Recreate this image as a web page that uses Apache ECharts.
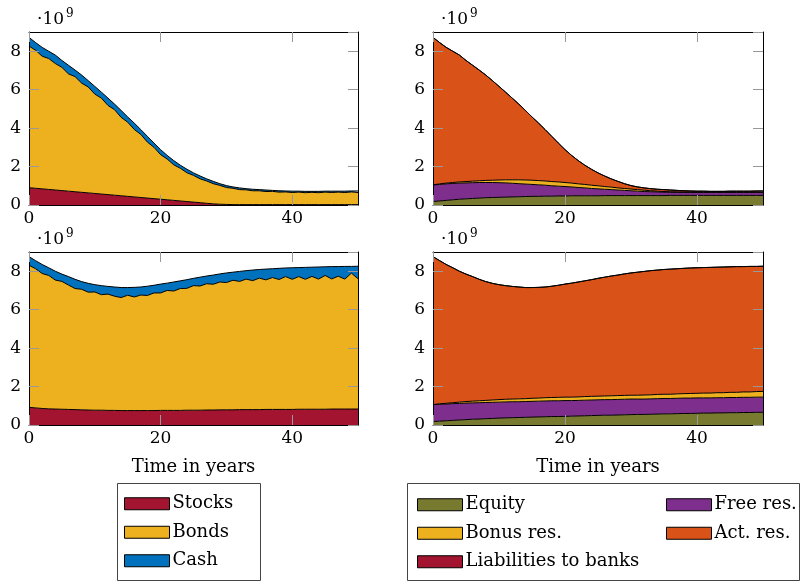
<!DOCTYPE html>
<html>
<head>
<meta charset="utf-8">
<script src="https://cdn.jsdelivr.net/npm/echarts@6/dist/echarts.min.js"></script>
<style>
  html, body { margin: 0; padding: 0; background: #fff; }
  #chart { width: 803px; height: 581px; }
</style>
</head>
<body>
<div id="chart"></div>
<script>
// all values in units of 10^9, one value per year (0..50)
const years = [0,1,2,3,4,5,6,7,8,9,10,11,12,13,14,15,16,17,18,19,20,21,22,23,24,25,
  26,27,28,29,30,31,32,33,34,35,36,37,38,39,40,41,42,43,44,45,46,47,48,49,50];

// top left: assets, scenario 1
const tlStocks = [0.90,0.87,0.84,0.81,0.78,0.75,0.72,0.69,0.66,0.63,
  0.60,0.57,0.54,0.51,0.48,0.45,0.42,0.39,0.36,0.33,
  0.30,0.27,0.24,0.21,0.18,0.15,0.12,0.09,0.06,0.04,
  0.03,0.02,0.02,0.02,0.02,0.02,0.02,0.02,0.02,0.02,
  0.02,0.02,0.02,0.02,0.02,0.02,0.02,0.02,0.02,0.02,
  0.02];
const tlBonds = [7.37,7.18,6.90,6.81,6.58,6.41,6.10,5.99,5.68,5.51,
  5.17,4.99,4.64,4.45,4.08,3.86,3.51,3.28,2.91,2.67,
  2.32,2.12,1.85,1.70,1.50,1.39,1.24,1.16,1.05,0.98,
  0.88,0.85,0.78,0.77,0.72,0.72,0.68,0.69,0.65,0.66,
  0.63,0.65,0.62,0.64,0.62,0.65,0.63,0.65,0.63,0.66,
  0.63];
const tlCash = [0.45,0.40,0.46,0.38,0.44,0.36,0.45,0.34,0.42,0.33,
  0.40,0.31,0.38,0.29,0.36,0.27,0.33,0.25,0.30,0.22,
  0.26,0.19,0.22,0.16,0.18,0.13,0.15,0.11,0.12,0.09,
  0.10,0.07,0.09,0.06,0.08,0.06,0.08,0.05,0.07,0.05,
  0.07,0.05,0.07,0.05,0.07,0.05,0.07,0.05,0.07,0.05,
  0.08];

// bottom left: assets, scenario 2
const blStocks = [0.92,0.89,0.86,0.84,0.83,0.82,0.81,0.80,0.79,0.78,
  0.77,0.77,0.76,0.76,0.75,0.75,0.75,0.75,0.75,0.75,
  0.76,0.76,0.76,0.76,0.77,0.77,0.77,0.78,0.78,0.79,
  0.79,0.79,0.80,0.80,0.80,0.80,0.81,0.81,0.81,0.81,
  0.81,0.82,0.82,0.82,0.82,0.82,0.83,0.83,0.83,0.83,
  0.83];
const blBonds = [7.39,7.24,7.02,6.94,6.71,6.65,6.47,6.30,6.27,6.13,
  6.15,6.01,6.05,5.94,5.88,6.00,5.91,6.01,5.99,6.12,
  6.11,6.24,6.21,6.34,6.34,6.48,6.46,6.57,6.54,6.65,
  6.62,6.74,6.67,6.79,6.71,6.84,6.74,6.86,6.76,6.91,
  6.77,6.90,6.76,6.91,6.77,6.96,6.77,6.91,6.76,7.07,
  6.78];
const blCash = [0.45,0.42,0.47,0.40,0.46,0.38,0.44,0.48,0.40,0.46,
  0.38,0.47,0.40,0.48,0.52,0.40,0.50,0.42,0.48,0.40,
  0.46,0.38,0.47,0.40,0.45,0.38,0.46,0.40,0.48,0.42,
  0.50,0.42,0.52,0.44,0.55,0.45,0.56,0.46,0.58,0.45,
  0.60,0.47,0.62,0.48,0.63,0.45,0.64,0.50,0.66,0.35,
  0.65];

// top right: liabilities, scenario 1
const trEquity = [0.18,0.21,0.24,0.27,0.30,0.32,0.34,0.36,0.38,0.39,
  0.40,0.41,0.42,0.43,0.44,0.45,0.45,0.46,0.46,0.47,
  0.47,0.48,0.48,0.48,0.48,0.48,0.49,0.49,0.49,0.49,
  0.49,0.49,0.49,0.49,0.49,0.49,0.50,0.50,0.50,0.50,
  0.50,0.50,0.50,0.50,0.50,0.50,0.50,0.50,0.50,0.50,
  0.50];
const trFree = [0.86,0.86,0.86,0.85,0.84,0.83,0.82,0.81,0.79,0.78,
  0.76,0.74,0.71,0.68,0.65,0.62,0.60,0.57,0.54,0.51,
  0.49,0.46,0.43,0.41,0.38,0.36,0.33,0.31,0.29,0.27,
  0.25,0.23,0.21,0.20,0.19,0.18,0.16,0.16,0.16,0.16,
  0.16,0.16,0.16,0.16,0.16,0.16,0.16,0.16,0.16,0.16,
  0.16];
const trBonus = [0.01,0.03,0.04,0.05,0.06,0.07,0.08,0.09,0.11,0.12,
  0.14,0.16,0.18,0.20,0.21,0.22,0.22,0.22,0.22,0.22,
  0.21,0.20,0.19,0.18,0.17,0.16,0.14,0.13,0.11,0.10,
  0.09,0.08,0.07,0.05,0.04,0.03,0.03,0.02,0.01,0.01,
  0.01,0.01,0.01,0.01,0.01,0.01,0.01,0.01,0.01,0.01,
  0.01];
const trAct = [7.67,7.35,7.06,6.83,6.60,6.30,6.03,5.76,5.48,5.18,
  4.87,4.56,4.25,3.94,3.62,3.29,2.99,2.67,2.35,2.02,
  1.71,1.44,1.21,1.00,0.83,0.67,0.55,0.43,0.34,0.25,
  0.18,0.14,0.12,0.11,0.10,0.10,0.09,0.08,0.07,0.06,
  0.05,0.05,0.04,0.04,0.04,0.05,0.05,0.05,0.05,0.06,
  0.06];

// bottom right: liabilities, scenario 2
const brEquity = [0.18,0.20,0.22,0.24,0.26,0.28,0.30,0.31,0.33,0.34,
  0.36,0.37,0.38,0.39,0.40,0.41,0.42,0.43,0.44,0.44,
  0.45,0.46,0.47,0.48,0.49,0.50,0.51,0.51,0.52,0.53,
  0.54,0.55,0.55,0.56,0.57,0.58,0.58,0.59,0.60,0.60,
  0.61,0.62,0.62,0.63,0.63,0.64,0.64,0.65,0.65,0.66,
  0.66];
const brFree = [0.88,0.88,0.87,0.87,0.86,0.86,0.85,0.85,0.84,0.84,
  0.83,0.83,0.83,0.82,0.82,0.82,0.82,0.82,0.82,0.82,
  0.82,0.81,0.81,0.81,0.81,0.81,0.81,0.81,0.81,0.81,
  0.81,0.80,0.80,0.80,0.80,0.80,0.80,0.80,0.80,0.80,
  0.80,0.79,0.79,0.79,0.79,0.79,0.79,0.79,0.79,0.79,
  0.79];
const brBonus = [0.00,0.02,0.04,0.05,0.07,0.08,0.09,0.10,0.11,0.12,
  0.13,0.14,0.14,0.15,0.15,0.16,0.16,0.17,0.17,0.18,
  0.18,0.18,0.18,0.19,0.19,0.19,0.19,0.20,0.20,0.20,
  0.20,0.20,0.21,0.21,0.22,0.22,0.22,0.23,0.23,0.24,
  0.24,0.25,0.25,0.26,0.26,0.27,0.27,0.28,0.28,0.29,
  0.30];
const brAct = [7.70,7.45,7.22,7.02,6.81,6.63,6.48,6.32,6.18,6.07,
  5.98,5.91,5.86,5.82,5.78,5.76,5.76,5.76,5.79,5.83,
  5.88,5.93,5.98,6.02,6.07,6.13,6.18,6.23,6.27,6.32,
  6.36,6.40,6.43,6.46,6.47,6.49,6.51,6.51,6.52,6.53,
  6.53,6.53,6.54,6.53,6.54,6.53,6.54,6.52,6.53,6.51,
  6.51];

// liabilities to banks stay at zero in both scenarios
const liabBanks = [0,0,0,0,0,0,0,0,0,0,0,0,0,0,0,0,0,0,0,0,0,0,0,0,0,0,
  0,0,0,0,0,0,0,0,0,0,0,0,0,0,0,0,0,0,0,0,0,0,0,0,0];

const xTickStep = 20;   // years between x ticks
const yMax = 9, yStep = 2;

const FONT = 'DejaVu Serif';
const RED = '#A2142F', YELLOW = '#EDB120', BLUE = '#0072BD';
const OLIVE = '#787A30', PURPLE = '#7E2F8E', ORANGE = '#D95319';

// plot areas, in pixels
const panels = [
  { left: 29, top: 32, width: 329, height: 173 },
  { left: 433, top: 32, width: 330, height: 173 },
  { left: 29, top: 252, width: 329, height: 173 },
  { left: 433, top: 252, width: 330, height: 173 }
];

const chart = echarts.init(document.getElementById('chart'));

function layer(name, values, color, p) {
  return {
    name: name,
    type: 'line',
    xAxisIndex: p * 2,
    yAxisIndex: p * 2,
    stack: 'panel' + p,
    data: values,
    symbol: 'none',
    lineStyle: { color: '#000', width: 1 },
    areaStyle: { color: color, opacity: 1 },
    itemStyle: { color: color, borderColor: '#000', borderWidth: 1 },
    emphasis: { disabled: true },
    silent: true,
    z: 2
  };
}

const onTick = (i) => years[i] % xTickStep === 0;

const grid = [], xAxis = [], yAxis = [];
panels.forEach((g, p) => {
  grid.push(Object.assign({ show: false }, g));
  const tick = { show: true, inside: true, length: 10, lineStyle: { color: '#999', width: 1 } };
  const line = { show: true, onZero: false, lineStyle: { color: '#000', width: 1 } };
  xAxis.push({
    gridIndex: p, type: 'category', data: years, boundaryGap: false, position: 'bottom',
    axisLine: line, axisTick: Object.assign({ interval: onTick }, tick),
    splitLine: { show: false }, z: 10,
    axisLabel: { interval: onTick, margin: 5, color: '#000', fontFamily: FONT, fontSize: 17 }
  });
  xAxis.push({
    gridIndex: p, type: 'category', data: years, boundaryGap: false, position: 'top',
    axisLine: line, axisTick: Object.assign({ interval: onTick }, tick),
    splitLine: { show: false }, axisLabel: { show: false }, z: 10
  });
  yAxis.push({
    gridIndex: p, type: 'value', position: 'left', min: 0, max: yMax, interval: yStep,
    axisLine: line, axisTick: tick, splitLine: { show: false }, z: 10,
    axisLabel: { margin: 8, color: '#000', fontFamily: FONT, fontSize: 17, showMaxLabel: false }
  });
  yAxis.push({
    gridIndex: p, type: 'value', position: 'right', min: 0, max: yMax, interval: yStep,
    axisLine: line, axisTick: tick, splitLine: { show: false }, axisLabel: { show: false }, z: 10
  });
});

const series = [
  layer('Stocks', tlStocks, RED, 0),
  layer('Bonds', tlBonds, YELLOW, 0),
  layer('Cash', tlCash, BLUE, 0),
  layer('Equity', trEquity, OLIVE, 1),
  layer('Free res.', trFree, PURPLE, 1),
  layer('Bonus res.', trBonus, YELLOW, 1),
  layer('Act. res.', trAct, ORANGE, 1),
  layer('Liabilities to banks', liabBanks, RED, 1),
  layer('Stocks', blStocks, RED, 2),
  layer('Bonds', blBonds, YELLOW, 2),
  layer('Cash', blCash, BLUE, 2),
  layer('Equity', brEquity, OLIVE, 3),
  layer('Free res.', brFree, PURPLE, 3),
  layer('Bonus res.', brBonus, YELLOW, 3),
  layer('Act. res.', brAct, ORANGE, 3),
  layer('Liabilities to banks', liabBanks, RED, 3)
];

function legendCol(names, left, top) {
  return {
    data: names, orient: 'vertical', left: left, top: top, padding: 0,
    icon: 'rect', itemWidth: 45, itemHeight: 12, itemGap: 9, selectedMode: false,
    itemStyle: { borderColor: '#000', borderWidth: 1 },
    textStyle: { fontFamily: FONT, fontSize: 18, color: '#000', padding: [0, 0, 0, -2], lineHeight: 19.5 }
  };
}

const graphics = [];
panels.forEach(g => {
  graphics.push({ type: 'text', x: g.left + 8, y: g.top - 12,
    style: { text: '·10', font: '17px "' + FONT + '"', fill: '#000', align: 'left', verticalAlign: 'middle' } });
  graphics.push({ type: 'text', x: g.left + 37, y: g.top - 18,
    style: { text: '9', font: '12px "' + FONT + '"', fill: '#000', align: 'left', verticalAlign: 'middle' } });
});
[panels[2], panels[3]].forEach(g => {
  graphics.push({ type: 'text', x: g.left + g.width / 2, y: 467,
    style: { text: 'Time in years', font: '18px "' + FONT + '"', fill: '#000', align: 'center', verticalAlign: 'middle' } });
});
graphics.push({ type: 'rect', shape: { x: 117.5, y: 483.5, width: 143, height: 97 },
  style: { fill: 'none', stroke: '#444', lineWidth: 1 } });
graphics.push({ type: 'rect', shape: { x: 407.5, y: 483.5, width: 392, height: 97 },
  style: { fill: 'none', stroke: '#444', lineWidth: 1 } });

chart.setOption({
  animation: false,
  grid: grid,
  xAxis: xAxis,
  yAxis: yAxis,
  legend: [
    legendCol(['Stocks', 'Bonds', 'Cash'], 124, 494),
    legendCol(['Equity', 'Bonus res.', 'Liabilities to banks'], 417, 495),
    legendCol(['Free res.', 'Act. res.'], 666, 495)
  ],
  graphic: graphics,
  series: series
});
</script>
</body>
</html>
